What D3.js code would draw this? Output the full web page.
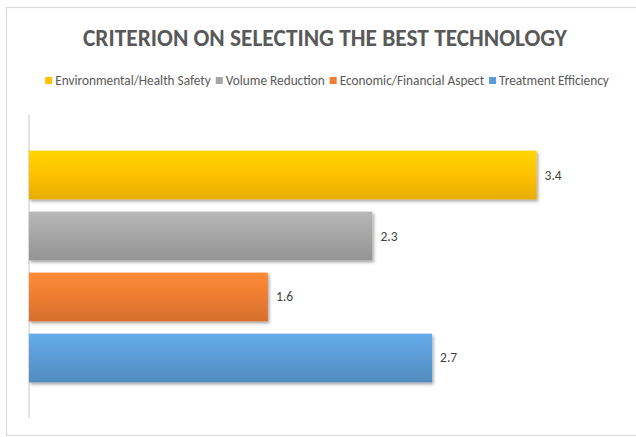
<!DOCTYPE html>
<html><head><meta charset="utf-8">
<script src="https://cdn.jsdelivr.net/npm/d3@7"></script>
<style>body{margin:0;background:#fff}svg{display:block}</style>
</head><body>
<script>
const categories = ["Environmental/Health Safety","Volume Reduction","Economic/Financial Aspect","Treatment Efficiency"];
const values = [3.4, 2.3, 1.6, 2.7];
const colors = ["#FFC000","#A5A5A5","#ED7D31","#5B9BD5"];
const titleText = "CRITERION ON SELECTING THE BEST TECHNOLOGY";

const W = 636, H = 437;
const font = "Carlito, Lato, 'Open Sans', sans-serif";
const svg = d3.select("body").append("svg").attr("width", W).attr("height", H);
const defs = svg.append("defs");

// border
svg.append("rect").attr("x",6.5).attr("y",7.5).attr("width",W+10).attr("height",428)
  .attr("fill","#fff").attr("stroke","#d9d9d9").attr("stroke-width",1.2);

// title
svg.append("text").attr("x",325).attr("y",46).attr("text-anchor","middle")
  .attr("font-family",font).attr("font-weight","bold").attr("font-size",24)
  .attr("fill","#595959").attr("textLength",484).attr("lengthAdjust","spacingAndGlyphs")
  .text(titleText);

// gradients
colors.forEach((c,i)=>{
  const g = defs.append("linearGradient").attr("id","g"+i).attr("x1",0).attr("y1",0).attr("x2",0).attr("y2",1);
  g.append("stop").attr("offset","0%").attr("stop-color",d3.color(c).brighter(0.3));
  g.append("stop").attr("offset","50%").attr("stop-color",c);
  g.append("stop").attr("offset","100%").attr("stop-color",d3.color(c).darker(0.3));
});
const f = defs.append("filter").attr("id","sh").attr("x","-5%").attr("y","-20%").attr("width","115%").attr("height","150%");
f.append("feDropShadow").attr("dx",1.5).attr("dy",2).attr("stdDeviation",1.5).attr("flood-color","#000").attr("flood-opacity",0.35);

// legend
const leg = svg.append("g");
let lx = 0;
categories.forEach((c,i)=>{
  const it = leg.append("g");
  it.append("rect").attr("x",lx).attr("y",-8).attr("width",7).attr("height",7).attr("fill",colors[i]);
  const t = it.append("text").attr("x",lx+10).attr("y",0).attr("font-family",font).attr("font-size",13.3)
    .attr("fill","#595959").text(c);
  lx += 10 + t.node().getComputedTextLength() + 5;
});
const legW = lx - 5;
leg.attr("transform",`translate(${327 - legW/2},85)`);

// scales
const x = d3.scaleLinear().domain([0,4]).range([29, 29 + 4*149.3]);
const y = d3.scaleBand().domain(categories).range([115,418]).paddingInner(0.2).paddingOuter(0.584);

// axis line
svg.append("line").attr("x1",x(0)).attr("x2",x(0)).attr("y1",115).attr("y2",418)
  .attr("stroke","#d9d9d9").attr("stroke-width",1.5);

// bars
svg.append("g").selectAll("rect").data(categories).join("rect")
  .attr("x",x(0)).attr("y",d=>y(d)).attr("width",(d,i)=>x(values[i])-x(0)).attr("height",y.bandwidth())
  .attr("fill",(d,i)=>`url(#g${i})`).attr("filter","url(#sh)");

// labels
svg.append("g").selectAll("text").data(categories).join("text")
  .attr("x",(d,i)=>x(values[i])+8).attr("y",d=>y(d)+y.bandwidth()/2+4.5)
  .attr("font-family",font).attr("font-size",13.5).attr("fill","#404040")
  .text((d,i)=>values[i].toFixed(1));
</script>
</body></html>
